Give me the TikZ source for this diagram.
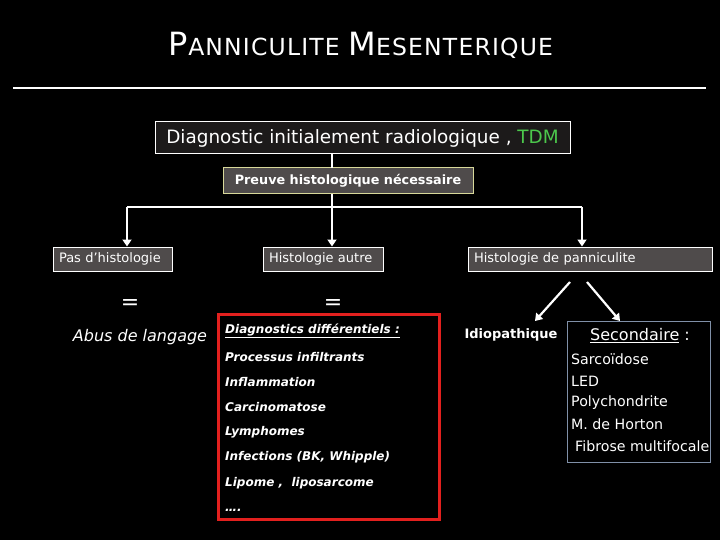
\documentclass[tikz,border=0pt]{standalone}
\usepackage{fontspec}
\setmainfont{DejaVu Sans}
\usetikzlibrary{arrows.meta}
\definecolor{boxgray}{HTML}{4F4B4B}
\definecolor{preuvebd}{HTML}{D8D89A}
\definecolor{redbd}{HTML}{E2201E}
\definecolor{secbd}{HTML}{8090A8}
\definecolor{tdmgreen}{HTML}{4CC84C}
\definecolor{diagfill}{HTML}{1C1A1A}
\tikzset{
  txt/.style={text=white, inner sep=0pt},
  graybox/.style={draw=white, line width=1pt, fill=boxgray, text=white, minimum height=24pt,
    inner xsep=6pt, inner ysep=0pt, align=left, font=\fontsize{13}{14}\selectfont},
  conn/.style={draw=white, line width=2.6pt},
  arr/.style={conn, -{Triangle[width=9pt,length=7pt]}},
  lst/.style={txt, anchor=west, font=\fontsize{12}{13}\selectfont\bfseries\itshape},
  sec/.style={txt, anchor=west, font=\fontsize{14.2}{15}\selectfont},
}
\begin{document}
\begin{tikzpicture}[x=1pt,y=-1pt]
\fill[black] (0,0) rectangle (720,540);
\useasboundingbox (0,0) rectangle (720,540);
% title
\node[txt] (title) at (361,45) {\addfontfeature{LetterSpace=5}\fontsize{32}{32}\selectfont P\fontsize{23.5}{24}\selectfont ANNICULITE \fontsize{32}{32}\selectfont M\fontsize{23.5}{24}\selectfont ESENTERIQUE};
\coordinate (rl) at (13,88);
\coordinate (rr) at (706,88);
\draw[white, line width=1.8pt] (rl) -- (rr);
% top boxes
\node[draw=white, line width=1pt, fill=diagfill, text=white, minimum width=415pt, minimum height=32pt, inner sep=0pt,
      font=\fontsize{18.4}{19}\selectfont] (diag) at (362.5,138) {Diagnostic initialement radiologique , \textcolor{tdmgreen}{TDM}};
\node[draw=preuvebd, line width=1pt, fill=boxgray, text=white, minimum width=250pt, minimum height=26pt, inner sep=0pt,
      font=\fontsize{12.8}{14}\selectfont\bfseries] (preuve) at (348,181) {Preuve histologique nécessaire};
% level boxes
\node[graybox, text width=107pt] (pas) at (112.5,259) {Pas d'histologie};
\node[graybox, text width=108pt] (autre) at (323,259) {Histologie autre};
\node[graybox, text width=232pt] (pann) at (590,259) {Histologie de panniculite};
% connectors
\coordinate (ja) at (332,154);
\coordinate (jb) at (332,168);
\coordinate (jc) at (332,194);
\coordinate (jm) at (332,207);
\coordinate (jl) at (127,207);
\coordinate (jr) at (582,207);
\draw[conn] (ja) -- (jb);
\draw[conn] (jc) -- (jm);
\draw[conn] (jl) -- (jr);
\draw[arr] (jl) -- (jl |- pas.north);
\draw[arr] (jm) -- (jm |- autre.north);
\draw[arr] (jr) -- (jr |- pann.north);
% equals
\node[txt, font=\fontsize{22}{22}\selectfont] (eq1) at (130,305) {=};
\node[txt, font=\fontsize{22}{22}\selectfont] (eq2) at (333,305) {=};
\node[txt, font=\fontsize{16}{16}\selectfont\itshape] (abus) at (140,337) {Abus de langage};
% red box
\node[draw=redbd, line width=3pt, minimum width=221pt, minimum height=205pt, inner sep=0pt] (dd) at (329,416.5) {};
\node[lst] (l0) at (225,331) {\underline{Diagnostics différentiels :}};
\node[lst] (l1) at (225,357) {Processus infiltrants};
\node[lst] (l2) at (225,382) {Inflammation};
\node[lst] (l3) at (225,407) {Carcinomatose};
\node[lst] (l4) at (225,432) {Lymphomes};
\node[lst] (l5) at (225,457) {Infections (BK, Whipple)};
\node[lst] (l6) at (225,483) {Lipome ,\ \ liposarcome};
\node[lst] (l7) at (225,510) {….};
% right side
\coordinate (a1s) at (570,282);
\coordinate (a1e) at (535,321);
\coordinate (a2s) at (587,282);
\coordinate (a2e) at (620,321);
\draw[arr, line width=2.2pt] (a1s) -- (a1e);
\draw[arr, line width=2.2pt] (a2s) -- (a2e);
\node[txt, font=\fontsize{13}{14}\selectfont\bfseries] (idio) at (511,335) {Idiopathique};
\node[draw=secbd, line width=1pt, minimum width=143pt, minimum height=141pt, inner sep=0pt] (secbox) at (638.5,391.5) {};
\node[txt, font=\fontsize{16}{16}\selectfont] (sect) at (640,336) {\underline{Secondaire} :};
\node[sec] (s1) at (571,359) {Sarcoïdose};
\node[sec] (s2) at (571,381) {LED};
\node[sec] (s3) at (571,403) {Polychondrite};
\node[sec] (s4) at (571,424) {M. de Horton};
\node[sec] (s5) at (575,446) {Fibrose multifocale};
\end{tikzpicture}
\end{document}
